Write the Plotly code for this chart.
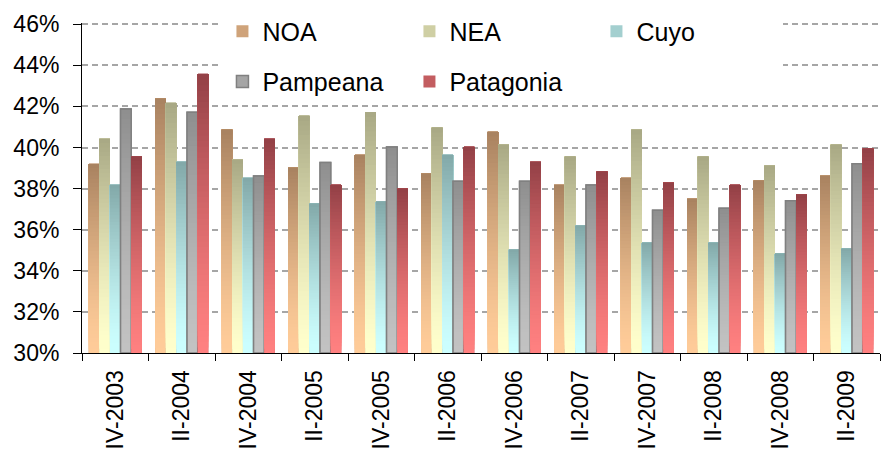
import plotly.graph_objects as go

categories = ["IV-2003", "II-2004", "IV-2004", "II-2005", "IV-2005", "II-2006",
              "IV-2006", "II-2007", "IV-2007", "II-2008", "IV-2008", "II-2009"]
noa = [39.2, 42.37, 40.86, 39.01, 39.64, 38.72, 40.76, 38.18, 38.52, 37.5, 38.38, 38.62]
nea = [40.42, 42.17, 39.4, 41.54, 41.73, 40.96, 40.13, 39.55, 40.86, 39.55, 39.11, 40.13]
cuyo = [38.18, 39.3, 38.52, 37.26, 37.36, 39.64, 35.02, 36.19, 35.36, 35.36, 34.83, 35.07]
pampeana = [41.88, 41.72, 38.62, 39.27, 40.03, 38.36, 38.36, 38.17, 36.95, 37.05, 37.41, 39.21]
patagonia = [39.55, 43.58, 40.42, 38.18, 37.99, 40.03, 39.30, 38.82, 38.28, 38.18, 37.7, 39.94]
yticks = [30, 32, 34, 36, 38, 40, 42, 44, 46]

# name, values, top colour, bottom colour, legend row
series = [
    ("NOA", noa, (168, 130, 96), (255, 204, 153), "legend"),
    ("NEA", nea, (168, 168, 132), (255, 255, 204), "legend"),
    ("Cuyo", cuyo, (130, 168, 168), (204, 255, 255), "legend"),
    ("Pampeana", pampeana, (142, 142, 142), (194, 194, 194), "legend2"),
    ("Patagonia", patagonia, (146, 64, 70), (255, 128, 128), "legend2"),
]

BASE = 30
NSEG = 50
FONT = "Liberation Sans, Arial, sans-serif"
ENTRY = 142


def mix(top, bot, t):
    return "rgb(%d,%d,%d)" % tuple(round(b + (a - b) * t) for a, b in zip(top, bot))


fig = go.Figure()
for name, vals, top, bot, leg in series:
    outline = name == "Pampeana"
    # legend / data trace
    fig.add_trace(go.Bar(
        x=categories, y=vals, name=name, offsetgroup=name, legend=leg,
        legendwidth=(ENTRY + 187) if name == "Patagonia" else None,
        marker=dict(color=mix(top, bot, 0.55),
                    line=dict(color="#808080", width=1.5 if outline else 0)),
    ))
    # gradient overlay built from the same values: each band runs up to the
    # bar top and the next band is drawn over it, so no seams appear
    xs, bases, hs, cols = [], [], [], []
    for k in range(NSEG):
        t = ((k + 0.5) / NSEG) ** 1.4
        for c, v in zip(categories, vals):
            b = BASE + (v - BASE) * k / NSEG
            xs.append(c)
            bases.append(b)
            hs.append(v - b)
            cols.append(mix(top, bot, t))
    fig.add_trace(go.Bar(
        x=xs, y=hs, base=bases, offsetgroup=name, showlegend=False,
        hoverinfo="skip", marker=dict(color=cols, line=dict(width=0)),
    ))
    if outline:
        fig.add_trace(go.Bar(
            x=categories, y=[v - BASE for v in vals], base=[BASE] * len(vals),
            offsetgroup=name, showlegend=False, hoverinfo="skip",
            marker=dict(color="rgba(0,0,0,0)", line=dict(color="#808080", width=1.5)),
        ))

legend_common = dict(
    orientation="h", xref="paper", x=0.176, xanchor="left",
    yref="container", yanchor="middle",
    bgcolor="white", borderwidth=0, entrywidth=ENTRY, entrywidthmode="pixels",
    font=dict(family=FONT, size=25, color="black"),
    traceorder="normal",
)

fig.update_layout(
    template="none",
    width=881, height=457,
    margin=dict(l=82, r=1, t=23, b=104, autoexpand=False),
    paper_bgcolor="white", plot_bgcolor="white",
    barmode="group", bargap=0.2, bargroupgap=0,
    font=dict(family=FONT, size=22, color="black"),
    showlegend=True,
    legend=dict(legend_common, y=0.931),
    legend2=dict(legend_common, y=0.821),
    xaxis=dict(
        type="category", tickangle=-90, showline=True, linecolor="black", linewidth=1,
        ticks="outside", ticklen=7, tickcolor="black", tickson="boundaries",
        showgrid=False, ticklabelstandoff=7, automargin=False,
        tickfont=dict(family=FONT, size=23, color="black"),
    ),
    yaxis=dict(
        range=[30, 46.06], tickvals=yticks, ticktext=["%d%%" % v for v in yticks],
        showline=True, linecolor="black", linewidth=1,
        ticks="outside", ticklen=8, tickcolor="black",
        showgrid=True, gridcolor="#A6A6A6", gridwidth=1.5, griddash="6px,4px",
        zeroline=False, ticklabelstandoff=9, automargin=False,
        tickfont=dict(family=FONT, size=23, color="black"),
    ),
)

fig.write_html("out.html", config={"displayModeBar": False},
               post_script="document.body.style.margin='0px';")
